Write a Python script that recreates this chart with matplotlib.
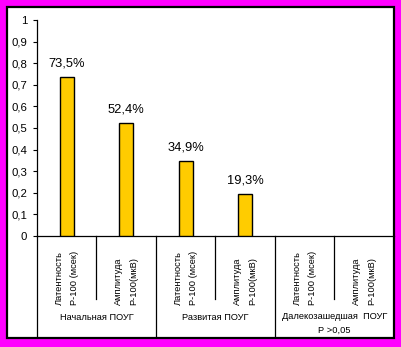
import matplotlib
matplotlib.use("Agg")
import matplotlib.pyplot as plt
from matplotlib.patches import Rectangle

plt.rcParams["font.family"] = ["Liberation Sans", "DejaVu Sans"]

# Data
categories = ["Латентность\nР-100 (мсек)", "Амплитуда\nР-100(мкВ)",
              "Латентность\nР-100 (мсек)", "Амплитуда\nР-100(мкВ)",
              "Латентность\nР-100 (мсек)", "Амплитуда\nР-100(мкВ)"]
values = [0.735, 0.524, 0.349, 0.193, None, None]
value_labels = ["73,5%", "52,4%", "34,9%", "19,3%", "", ""]
groups = ["Начальная ПОУГ", "Развитая ПОУГ", "Далекозашедшая  ПОУГ\nР >0,05"]
yticks = [0, 0.1, 0.2, 0.3, 0.4, 0.5, 0.6, 0.7, 0.8, 0.9, 1.0]
ytick_labels = ["0", "0,1", "0,2", "0,3", "0,4", "0,5", "0,6", "0,7", "0,8", "0,9", "1"]

W, H = 402, 347
fig = plt.figure(figsize=(W / 100, H / 100), dpi=100)
fig.patch.set_facecolor("#FF00FF")

# White framed panel behind the axes
fig.patches.append(Rectangle((7 / W, (H - 338) / H), 387 / W, 331 / H,
                             transform=fig.transFigure, facecolor="white",
                             edgecolor="black", linewidth=1.6, zorder=-5))

ax = fig.add_axes([37 / W, (H - 236) / H, (394 - 37) / W, 216 / H])
ax.set_facecolor("none")
ax.set_zorder(1)

xs = list(range(len(categories)))
for x, v, lab in zip(xs, values, value_labels):
    if v is None:
        continue
    ax.bar(x, v, width=0.24, color="#FFCC00", edgecolor="black", linewidth=1.0, zorder=3)
    ax.text(x, v + 0.048, lab, ha="center", va="baseline", fontsize=9.3)

ax.set_xlim(-0.5, len(categories) - 0.5)
ax.set_ylim(0, 1)
ax.set_yticks(yticks)
ax.set_yticklabels(ytick_labels, fontsize=8.2)
ax.tick_params(axis="y", direction="out", length=3, width=0.8, pad=4)
ax.set_xticks([])

for side in ["top", "right"]:
    ax.spines[side].set_visible(False)
ax.spines["left"].set_linewidth(0.9)
ax.spines["bottom"].set_linewidth(0.9)

tr = ax.get_xaxis_transform()

# Category separators below the axis
for i in range(len(categories)):
    b = i - 0.5
    end = -0.4676 if i % 2 == 0 else -0.2917
    ax.plot([b, b], [0, end], color="black", lw=0.9, transform=tr, clip_on=False)

# Rotated category labels
for x, lab in zip(xs, categories):
    ax.text(x, -0.319, lab, rotation=90, ha="center", va="bottom",
            multialignment="left", fontsize=6.7, linespacing=1.85,
            transform=tr)

# Group labels
ax.text(0.5, -0.375, groups[0], ha="center", va="center", fontsize=6.7, transform=tr)
ax.text(2.5, -0.375, groups[1], ha="center", va="center", fontsize=6.7, transform=tr)
ax.text(4.5, -0.405, groups[2], ha="center", va="center", fontsize=6.7,
        linespacing=1.7, transform=tr)

fig.savefig("out.png", dpi=100, facecolor=fig.get_facecolor())
